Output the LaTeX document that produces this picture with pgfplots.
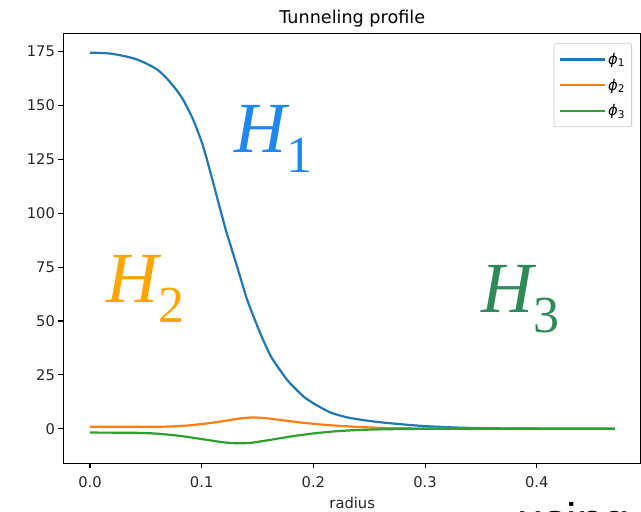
\documentclass[border=0pt]{standalone}
\usepackage{pgfplots}
\pgfplotsset{compat=1.18}
\usepackage{fontspec}
\setmainfont{DejaVu Sans}
\newfontfamily\serifit{Liberation Serif}
\newfontfamily\usingfont{Liberation Sans}
\definecolor{c1}{HTML}{1F77B4}
\definecolor{c2}{HTML}{FF7F0E}
\definecolor{c3}{HTML}{2CA02C}
\definecolor{hone}{HTML}{1E88F0}
\definecolor{htwo}{HTML}{FFA500}
\definecolor{hthree}{HTML}{2E8B57}
\newcommand{\phisub}[1]{\fontsize{14.7}{17}\selectfont\textit{ϕ}\raisebox{-2.5pt}{\fontsize{10.5}{12}\selectfont #1}}
\pgfplotstableread{
x y
0 174.5
0.01 174.4
0.02 174.0
0.033 172.7
0.042 171.4
0.05 169.6
0.06 166.8
0.0686 162.7
0.077 157.5
0.0835 152.6
0.0925 143.3
0.1014 130.9
0.1104 114
0.1165 102
0.1223 91
0.1253 86
0.133 73
0.1403 60.5
0.148 50
0.155 41.2
0.162 33.5
0.170 27.3
0.177 22.3
0.185 18.0
0.192 14.6
0.200 11.8
0.2149 7.6
0.2298 5.3
0.2447 4.0
0.2596 3.0
0.28 2.0
0.30 1.2
0.33 0.5
0.36 0.2
0.40 0.05
0.47 0.0
}\phione
\pgfplotstableread{
x y
0 0.9
0.05 0.9
0.07 1.0
0.09 1.6
0.11 2.8
0.125 4.0
0.135 4.8
0.145 5.2
0.155 5.0
0.17 4.1
0.19 2.8
0.21 1.8
0.23 1.1
0.25 0.6
0.27 0.3
0.30 0.1
0.35 0.0
0.47 0.0
}\phitwo
\pgfplotstableread{
x y
0 -1.8
0.04 -1.9
0.06 -2.3
0.08 -3.3
0.10 -4.8
0.115 -6.0
0.125 -6.6
0.135 -6.8
0.145 -6.5
0.16 -5.3
0.18 -3.6
0.20 -2.2
0.22 -1.2
0.24 -0.6
0.26 -0.3
0.29 -0.1
0.33 0
0.47 0
}\phithree
\begin{document}
\begin{tikzpicture}
\begin{axis}[
  at={(63.4pt,48.7pt)}, anchor=south west,
  width=577.6pt, height=429.5pt, scale only axis,
  xmin=-0.0238, xmax=0.4933, ymin=-16.06, ymax=183.3,
  xtick={0,0.1,0.2,0.3,0.4}, xticklabels={0.0,0.1,0.2,0.3,0.4},
  ytick={0,25,50,75,100,125,150,175},
  xtick pos=bottom, ytick pos=left,
  tick align=outside, major tick length=5pt,
  tick style={black, line width=1.1pt},
  axis line style={line width=1.2pt},
  /pgf/number format/assume math mode=true,
  ticklabel style={font=\fontsize{14.7}{17}\selectfont, text=black!85},
  xticklabel style={yshift=-5pt},
  title={Tunneling profile},
  title style={font=\fontsize{17.6}{20}\selectfont, at={(0.5,1)}, anchor=base, yshift=4pt},
  xlabel={radius},
  xlabel style={font=\fontsize{14.7}{17}\selectfont, at={(0.5,0)}, anchor=base, yshift=-44.7pt, text=black!85},
  legend style={at={(1,1)}, anchor=north east, xshift=-9pt, yshift=-9.5pt,
    draw=black!20, line width=0.8pt, rounded corners=2pt, fill=white,
    font=\fontsize{14.7}{17}\selectfont, row sep=9pt, inner xsep=5pt, inner ysep=7.5pt,
    /tikz/every even column/.append style={column sep=18pt}},
  legend cell align=left,
  legend image code/.code={\draw[#1, line width=2.2pt] (0pt,0pt) -- (45pt,0pt);},
  every axis plot/.append style={line width=2.2pt},
]
\addplot[c1, smooth, tension=0.4] table {\phione};
\addplot[c2, smooth, tension=0.4] table {\phitwo};
\addplot[c3, smooth, tension=0.4] table {\phithree};
\legend{\phisub{1},\phisub{2},\phisub{3}}
\end{axis}
\node[anchor=base west, inner sep=0, text=hone] at (234pt,359pt) {\fontsize{72}{80}\selectfont\serifit\itshape H\raisebox{-20pt}{\upshape\fontsize{52}{60}\selectfont 1}};
\node[anchor=base west, inner sep=0, text=htwo] at (106pt,209pt) {\fontsize{72}{80}\selectfont\serifit\itshape H\raisebox{-20pt}{\upshape\fontsize{52}{60}\selectfont 2}};
\node[anchor=base west, inner sep=0, text=hthree] at (481pt,199pt) {\fontsize{72}{80}\selectfont\serifit\itshape H\raisebox{-20pt}{\upshape\fontsize{52}{60}\selectfont 3}};
\node[anchor=base west, inner sep=0] at (517pt,-25pt) {\fontsize{47}{50}\selectfont\usingfont using};
\pgfresetboundingbox
\useasboundingbox (0pt,0pt) rectangle (641pt,512pt);
\end{tikzpicture}
\end{document}
